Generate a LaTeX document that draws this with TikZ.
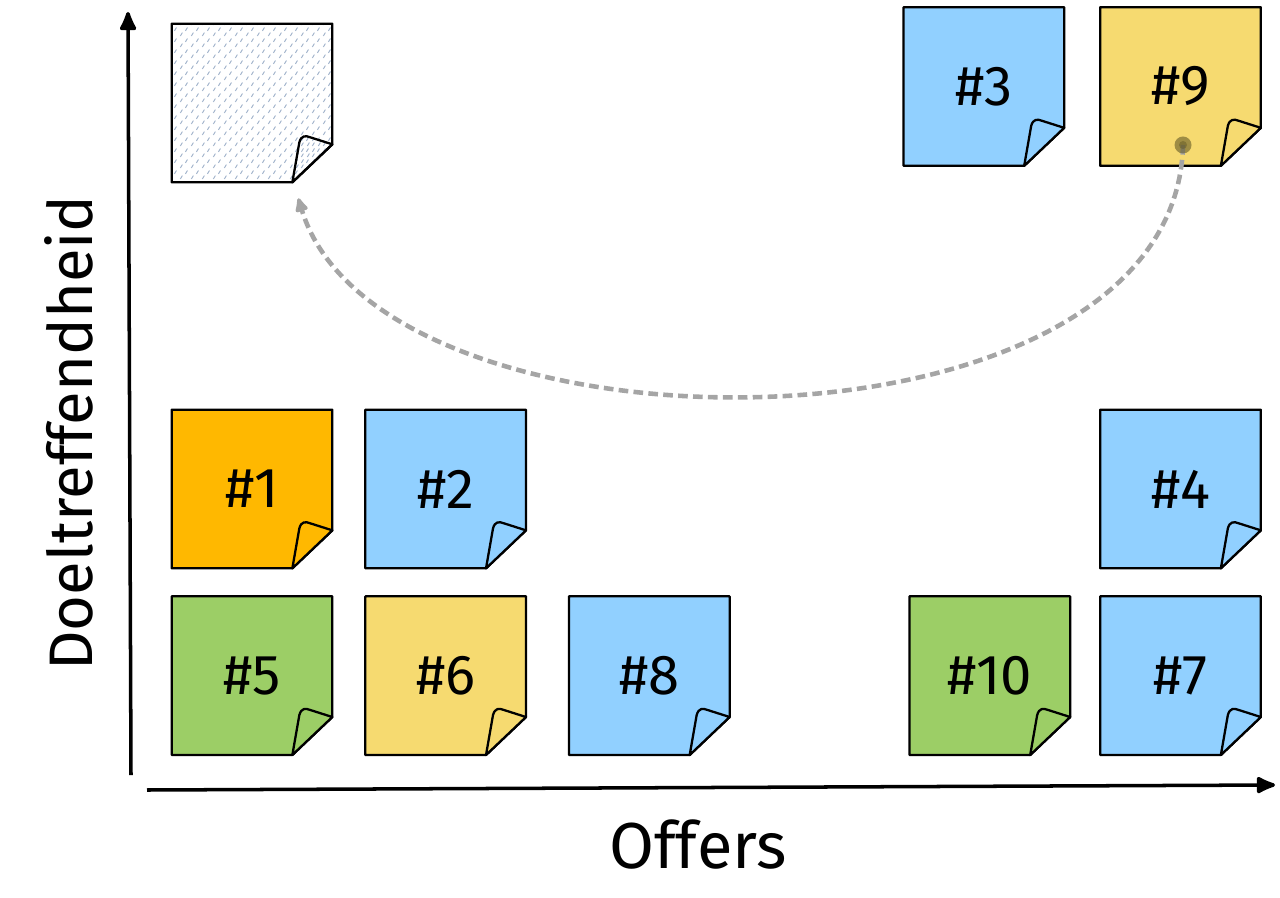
\documentclass[tikz,border=0pt]{standalone}
\usepackage{fontspec}
\setmainfont{Fira Sans}
\usetikzlibrary{arrows.meta,positioning,backgrounds,patterns}

\definecolor{bluenote}{RGB}{145,208,255}
\definecolor{yellownote}{RGB}{246,218,112}
\definecolor{greennote}{RGB}{156,206,102}
\definecolor{orangenote}{RGB}{255,184,0}
\definecolor{hatchgray}{RGB}{160,178,202}
\definecolor{pilgray}{RGB}{165,165,165}
\definecolor{pincol}{RGB}{100,90,40}

% short dashes for the empty note
\pgfdeclarepatternformonly{dashhatch}{\pgfqpoint{0pt}{0pt}}{\pgfqpoint{6pt}{6pt}}{\pgfqpoint{6pt}{6pt}}{%
  \pgfsetlinewidth{0.55pt}
  \pgfpathmoveto{\pgfqpoint{0.8pt}{0.6pt}}
  \pgfpathlineto{\pgfqpoint{2pt}{2.6pt}}
  \pgfpathmoveto{\pgfqpoint{3.8pt}{3.6pt}}
  \pgfpathlineto{\pgfqpoint{5pt}{5.6pt}}
  \pgfusepath{stroke}}

\tikzset{%
  % Specifications for style of nodes:
        note/.style = {minimum width=3.2cm, minimum height=3.16cm, inner sep=0pt,
                       font=\fontsize{32}{38}\selectfont},
    noteline/.style = {draw=black, line width=1.3pt, line join=round},
        axis/.style = {-{Latex[length=13pt,width=11pt,round]}, line width=2pt},
pil/.style={
           -{Latex[length=10pt,width=9pt,round]},
           line width=2.6pt,
           draw=pilgray,
           dash pattern=on 5.5pt off 3pt,}
}

% sticky note outline with folded corner, behind node #1
\newcommand{\sticky}[2]{%
  \begin{scope}[on background layer]
  \draw[noteline, #2] (#1.north west) -- (#1.north east)
     -- ([yshift=0.76cm]#1.south east) -- ([xshift=-0.8cm]#1.south east)
     -- (#1.south west) -- cycle;
  \draw[noteline, #2] ([xshift=-0.8cm]#1.south east)
     -- ([xshift=-0.66cm,yshift=0.8cm]#1.south east)
     .. controls ([xshift=-0.62cm,yshift=0.94cm]#1.south east)
     and ([xshift=-0.54cm,yshift=0.94cm]#1.south east)
     .. ([xshift=-0.44cm,yshift=0.9cm]#1.south east)
     -- ([yshift=0.76cm]#1.south east) -- cycle;
  \end{scope}}

\begin{document}
\begin{tikzpicture}[x=0.02cm, y=0.02cm, node distance=0.66cm]
\useasboundingbox (0,0) rectangle (1280,897);

% axes
\coordinate (o) at (131,122);
\coordinate (ytop) at (128,885);
\coordinate (xo) at (147,107);
\coordinate (xend) at (1275,112);
\draw[axis] (o) -- (ytop);
\draw[axis] (xo) -- (xend);

\node (xlabel) [anchor=base, font=\fontsize{37}{44}\selectfont] at (698,29) {Offers};
\node (ylabel) [anchor=base, rotate=90, font=\fontsize{35}{42}\selectfont] at (92,464) {Doeltreffendheid};

% notes
\node (e)  [note] at (252,794) {};
\node (n9) [note] at (1180.5,810.5) {\#9};
\node (n3) [note, left=0.72cm of n9] {\#3};
\node (n1) [note] at (252,408) {\#1};
\node (n2) [note, right=of n1] {\#2};
\node (n4) [note] at (1180.5,408) {\#4};
\node (n5) [note, below=0.56cm of n1] {\#5};
\node (n6) [note, right=of n5] {\#6};
\node (n8) [note, right=0.86cm of n6] {\#8};
\node (n7) [note, below=0.56cm of n4] {\#7};
\node (n10) [note, left=0.6cm of n7] {\#10};

\sticky{e}{pattern=dashhatch, pattern color=hatchgray}
\sticky{n9}{fill=yellownote}
\sticky{n3}{fill=bluenote}
\sticky{n1}{fill=orangenote}
\sticky{n2}{fill=bluenote}
\sticky{n4}{fill=bluenote}
\sticky{n5}{fill=greennote}
\sticky{n6}{fill=yellownote}
\sticky{n8}{fill=bluenote}
\sticky{n7}{fill=bluenote}
\sticky{n10}{fill=greennote}

% move #9 back
\coordinate (pin) at ([xshift=0.05cm, yshift=-1.17cm]n9.center);
\coordinate (tip) at ([xshift=-0.68cm, yshift=-0.32cm]e.south east);
\draw[pil] (pin) .. controls (1175,427) and (380,427) .. (tip);
\fill[pincol, opacity=0.6] (pin) circle (0.17cm);
\fill[pincol, opacity=0.5] (pin) circle (0.08cm);

\end{tikzpicture}
\end{document}
